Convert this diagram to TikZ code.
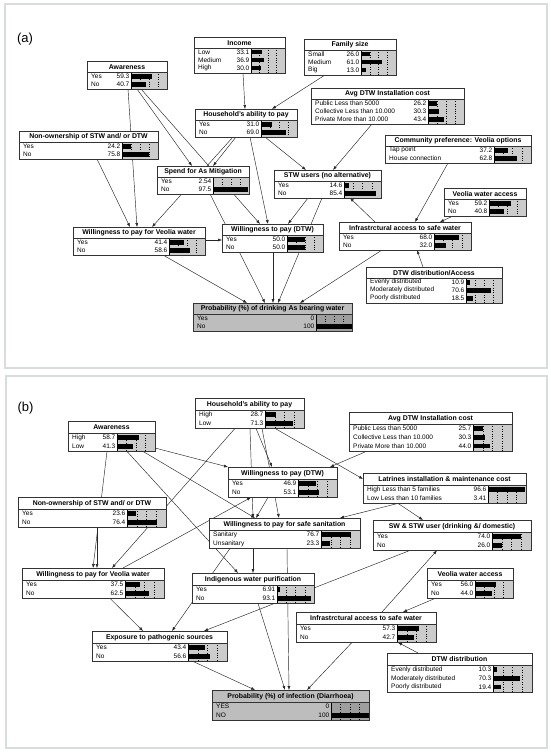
\documentclass[tikz,border=0pt]{standalone}
\usepackage{fontspec}
\setmainfont{Liberation Sans}
\usetikzlibrary{arrows.meta,calc}
\pgfdeclarelayer{bg}
\pgfsetlayers{bg,main}
\definecolor{barg}{gray}{0.80}
\definecolor{probfill}{gray}{0.74}
\definecolor{probbar}{gray}{0.62}
\definecolor{framec}{RGB}{216,220,220}
\tikzset{
 box/.style={draw=black!80, line width=0.5pt, inner sep=0pt, outer sep=0pt},
 conn/.style={draw=black!85, line width=0.45pt, -{Latex[length=4pt,width=3pt]}},
 frame/.style={draw=framec, line width=1.5pt},
 ttl/.style={font=\fontsize{6.9}{7}\selectfont\bfseries, inner sep=0pt},
 lbl/.style={font=\fontsize{6.5}{7}\selectfont, inner sep=0pt, anchor=west},
 val/.style={font=\fontsize{6.5}{7}\selectfont, inner sep=0pt, anchor=east},
 plab/.style={font=\fontsize{13}{14}\selectfont, inner sep=0pt},
}
\def\boxfill{white}
\def\barfill{barg}
\def\TH{11}
\def\RH{8}
% #1 name, #2 x, #3 y, #4 width, #5 bar start x, #6 rows, #7 title, #8 rows list
\newcommand{\bnode}[8]{%
 \pgfmathsetmacro{\hh}{\TH+#6*\RH+1}%
 \pgfmathsetmacro{\bw}{#2+#4-#5}%
 \node[box, fill=\boxfill, minimum width=#4pt, minimum height=\hh pt, anchor=north west] (#1) at (#2,#3) {};%
 \fill[\barfill] (#5,#3+\TH) rectangle (#2+#4,#3+\hh);%
 \foreach \f in {0.25,0.5,0.75}{\draw[dotted, line width=0.4pt] (#5+\f*\bw,#3+\TH) -- (#5+\f*\bw,#3+\hh);}%
 \draw[line width=0.4pt] (#5,#3+\TH) -- (#5,#3+\hh);%
 \draw[black!80, line width=0.5pt] (#2,#3+\TH) -- (#2+#4,#3+\TH);%
 \node[ttl] at (#2+#4/2,#3+\TH/2+0.3) {#7};%
 \foreach \l/\v/\p [count=\i] in {#8}{%
   \pgfmathsetmacro{\yy}{#3+\TH+(\i-0.5)*\RH+0.3}%
   \node[lbl] at (#2+4,\yy) {\l};%
   \node[val] at (#5-1.5,\yy) {\v};%
   \fill[black] (#5,\yy-2.2) rectangle (#5+\p*\bw/100,\yy+2.2);%
 }%
 \draw[black!80, line width=0.5pt] (#1.north west) rectangle (#1.south east);%
}
\begin{document}
\begin{tikzpicture}[x=1pt,y=-1pt]
\useasboundingbox (0,0) rectangle (550,752);
\draw[frame] (5,4) rectangle (547,368);
\draw[frame] (6,376) rectangle (547,748);
\node[plab] (la) at (25,39) {(a)};
\node[plab] (lb) at (25.5,408) {(b)};

% ---------------- panel (a)
\def\TH{11}\def\RH{8}
\bnode{income}{194}{37}{91}{251}{3}{Income}{Low/33.1/33.1, Medium/36.9/36.9, High/30.0/30.0}
\bnode{fam}{304}{39}{92}{361}{3}{Family size}{Small/26.0/26.0, Medium/61.0/61.0, Big/13.0/13.0}
\bnode{aware}{87}{61}{80}{131}{2}{Awareness}{Yes/59.3/59.3, No/40.7/40.7}
\bnode{hh}{195}{109}{102}{261}{2}{Household's ability to pay}{Yes/31.0/31.0, No/69.0/69.0}
\bnode{avg}{311}{88}{153}{428}{3}{Avg DTW Installation cost}{Public Less than 5000/26.2/26.2, Collective Less than 10.000/30.3/30.3, Private More than 10.000/43.4/43.4}
\bnode{nonown}{19}{131}{139}{122}{2}{Non-ownership of STW and/ or DTW}{Yes/24.2/24.2, No/75.8/75.8}
\bnode{spend}{157}{166}{92}{213}{2}{Spend for As Mitigation}{Yes/2.54/2.54, No/97.5/97.5}
\bnode{comm}{385}{135}{146}{494}{2}{Community preference: Veolia options}{Tap point/37.2/37.2, House connection/62.8/62.8}
\bnode{stw}{274}{170}{107}{344}{2}{STW users (no alternative)}{Yes/14.6/14.6, No/85.4/85.4}
\bnode{vacc}{444}{188}{82}{489}{2}{Veolia water access}{Yes/59.2/59.2, No/40.8/40.8}
\bnode{wveo}{73}{227}{132}{169}{2}{Willingness to pay for Veolia water}{Yes/41.4/41.4, No/58.6/58.6}
\bnode{wdtw}{222}{224}{101}{287}{2}{Willingness to pay (DTW)}{Yes/50.0/50.0, No/50.0/50.0}
\bnode{infra}{339}{222}{132}{434}{2}{Infrastrctural access to safe water}{Yes/68.0/68.0, No/32.0/32.0}
\bnode{dist}{366}{267}{136}{466}{3}{DTW distribution/Access}{Evenly distributed/10.9/10.9, Moderately distributed/70.6/70.6, Poorly distributed/18.5/18.5}
\def\boxfill{probfill}\def\barfill{probbar}
\bnode{prob}{193}{303}{159}{316}{2}{Probability (\%) of drinking As bearing water}{Yes/0/0, No/100/100}
\def\boxfill{white}\def\barfill{barg}

\begin{pgfonlayer}{bg}
\draw[conn] (income.south -| 243,0) -- (hh.north -| 245,0);
\draw[conn] (fam.south -| 325,0) -- (hh.north -| 272,0);
\draw[conn] (aware.south -| 137,0) -- (spend.north -| 192,0);
\draw[conn] (aware.south -| 141,0) -- (wdtw.north -| 260,0);
\draw[conn] (aware.south -| 128,0) -- (wveo.north -| 137,0);
\draw[conn] (nonown.south -| 97,0) -- (wveo.north -| 130,0);
\draw[conn] (hh.south -| 236,0) -- (spend.north -| 213,0);
\draw[conn] (hh.south -| 233,0) -- (wveo.north -| 152,0);
\draw[conn] (hh.south -| 250,0) -- (wdtw.north -| 268,0);
\draw[conn] (hh.south -| 265,0) -- (stw.north -| 306,0);
\draw[conn] (avg.south -| 372,0) -- (stw.north -| 333,0);
\draw[conn] (wveo.east |- 0,240) -- (wdtw.west |- 0,240);
\draw[conn] (wveo.south -| 163,0) -- (prob.north -| 247,0);
\draw[conn] (spend.south -| 210,0) -- (prob.north -| 265,0);
\draw[conn] (wdtw.south -| 273,0) -- (prob.north -| 273,0);
\draw[conn] (stw.south -| 308,0) -- (wdtw.north -| 288,0);
\draw[conn] (stw.south -| 322,0) -- (prob.north -| 278,0);
\draw[conn] (infra.north -| 375,0) -- (stw.south -| 350,0);
\draw[conn] (infra.south -| 382,0) -- (prob.north -| 300,0);
\draw[conn] (comm.south -| 448,0) -- (infra.north -| 415,0);
\draw[conn] (vacc.south -| 453,0) -- (infra.north -| 440,0);
\draw[conn] (dist.north -| 423,0) -- (infra.south -| 417,0);
\end{pgfonlayer}

% ---------------- panel (b)
\def\TH{12}\def\RH{8.7}
\bnode{hhb}{195}{398}{109}{265}{2}{Household's ability to pay}{High/28.7/28.7, Low/71.3/71.3}
\bnode{awb}{68}{421}{87}{117}{2}{Awareness}{High/58.7/58.7, Low/41.3/41.3}
\bnode{avgb}{349}{412}{163}{473}{3}{Avg DTW Installation cost}{Public Less than 5000/25.7/25.7, Collective Less than 10.000/30.3/30.3, Private More than 10.000/44.0/44.0}
\bnode{wdtwb}{228}{467}{109}{298}{2}{Willingness to pay (DTW)}{Yes/46.9/46.9, No/53.1/53.1}
\bnode{lat}{363}{473}{163}{488}{2}{Latrines installation \& maintenance cost}{High Less than 5 families/96.6/96.6, Low Less than 10 families/3.41/3.41}
\bnode{nob}{18}{497}{148}{127}{2}{Non-ownership of STW and/ or DTW}{Yes/23.6/23.6, No/76.4/76.4}
\bnode{san}{209}{518}{151}{321}{2}{Willingness to pay for safe sanitation}{Sanitary/76.7/76.7, Unsanitary/23.3/23.3}
\bnode{sw}{373}{520}{158}{492}{2}{SW \& STW user (drinking \&/ domestic)}{Yes/74.0/74.0, No/26.0/26.0}
\bnode{wvb}{22}{568}{142}{125}{2}{Willingness to pay for Veolia water}{Yes/37.5/37.5, No/62.5/62.5}
\bnode{ind}{192}{573}{122}{277}{2}{Indigenous water purification}{Yes/6.91/6.91, No/93.1/93.1}
\bnode{vaccb}{427}{568}{86}{475}{2}{Veolia water access}{Yes/56.0/56.0, No/44.0/44.0}
\bnode{exp}{92}{631}{135}{188}{2}{Exposure to pathogenic sources}{Yes/43.4/43.4, No/56.6/56.6}
\bnode{infb}{296}{612}{140}{397}{2}{Infrastrctural access to safe water}{Yes/57.3/57.3, No/42.7/42.7}
\bnode{distb}{387}{653}{145}{493}{3}{DTW distribution}{Evenly distributed/10.3/10.3, Moderately distributed/70.3/70.3, Poorly distributed/19.4/19.4}
\def\boxfill{probfill}\def\barfill{probbar}
\bnode{probb}{212}{690}{157}{331}{2}{Probability (\%) of infection (Diarrhoea)}{YES/0/0, NO/100/100}
\def\boxfill{white}\def\barfill{barg}

\begin{pgfonlayer}{bg}
\draw[conn] (awb.east |- 0,448) -- (wdtwb.north west);
\draw[conn] (awb.south -| 143,0) -- (san.north -| 255,0);
\draw[conn] (awb.south -| 127,0) -- (ind.north -| 238,0);
\draw[conn] (awb.south -| 107,0) -- (wvb.north -| 93,0);
\draw[conn] (nob.south -| 97,0) -- (wvb.north -| 97,0);
\draw[conn] (hhb.south -| 235,0) -- (wvb.north -| 112,0);
\draw[conn] (hhb.south -| 275,0) -- (lat.west |- 0,479);
\draw[conn] (hhb.south -| 256,0) -- (wdtwb.north -| 272,0);
\draw[conn] (hhb.south -| 250,0) -- (san.north -| 253,0);
\draw[conn] (san.south -| 253,0) -- (ind.north -| 253,0);
\draw[conn] (hhb.south -| 262,0) -- (san.north -| 279,0);
\draw[conn] (avgb.south -| 367,0) -- (wdtwb.north -| 330,0);
\draw[conn] (lat.south -| 398,0) -- (san.north -| 340,0);
\draw[conn] (lat.south -| 398,0) -- (sw.north -| 423,0);
\draw[conn] (wvb.north -| 123,0) -- (wdtwb.south -| 251,0);
\draw[conn] (wdtwb.south -| 268,0) -- (san.north -| 256,0);
\draw[conn] (san.south -| 230,0) -- (exp.north -| 172,0);
\draw[conn] (san.south -| 287,0) -- (probb.north -| 289,0);
\draw[conn] (ind.south -| 258,0) -- (probb.north -| 285,0);
\draw[conn] (exp.south -| 193,0) -- (probb.north -| 255,0);
\draw[conn] (wvb.south -| 110,0) -- (exp.north -| 143,0);
\draw[conn] (sw.south -| 410,0) -- (exp.north -| 204,0);
\draw[conn] (infb.north -| 382,0) -- (sw.south -| 437,0);
\draw[conn] (infb.south -| 352,0) -- (probb.north -| 307,0);
\draw[conn] (vaccb.south -| 435,0) -- (infb.north -| 403,0);
\draw[conn] (distb.north -| 418,0) -- (infb.south -| 398,0);
\end{pgfonlayer}
\end{tikzpicture}
\end{document}
